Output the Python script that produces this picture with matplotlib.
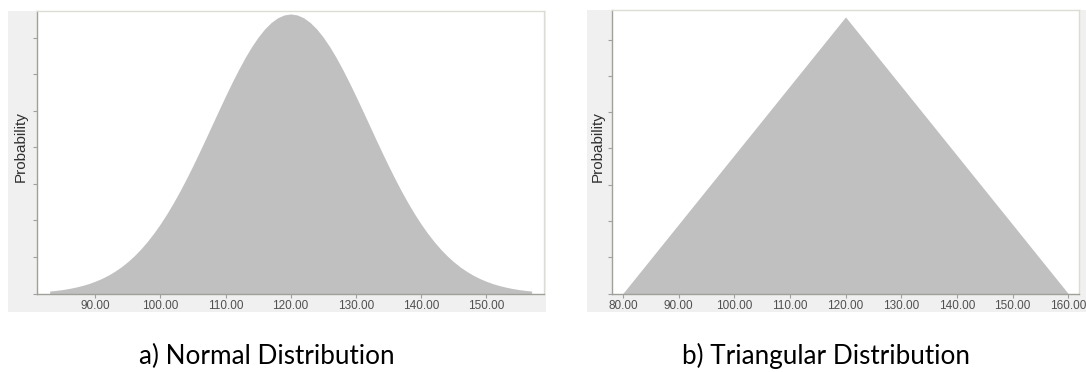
import numpy as np
import matplotlib
matplotlib.use("Agg")
from matplotlib import pyplot as plt
from matplotlib.patches import Rectangle

# normal distribution, read off panel a) (x = 83 .. 157, symmetric about 120)
norm_x = list(range(83, 158))
norm_left = [0.00029, 0.00037, 0.00047, 0.00060, 0.00076, 0.00095, 0.00118, 0.00146, 0.00179,
             0.00218, 0.00264, 0.00317, 0.00379, 0.00449, 0.00529, 0.00619, 0.00718, 0.00828,
             0.00948, 0.01078, 0.01217, 0.01365, 0.01520, 0.01681, 0.01846, 0.02014, 0.02181,
             0.02346, 0.02506, 0.02658, 0.02801, 0.02930, 0.03044, 0.03141, 0.03218, 0.03274,
             0.03308]
norm_peak = 0.0332
norm_y = norm_left + [norm_peak] + norm_left[::-1]
norm_xticks = [90, 100, 110, 120, 130, 140, 150]

# triangular distribution, panel b)
tri_x = [80, 120, 160]
tri_y = [0, 0.025, 0]
tri_xticks = [80, 90, 100, 110, 120, 130, 140, 150, 160]

captions = ["a) Normal Distribution", "b) Triangular Distribution"]

W, H = 1086, 372
fig = plt.figure(figsize=(W / 100, H / 100), dpi=100)
fig.patch.set_facecolor("white")

def px(x0, y0, x1, y1):
    return [x0 / W, 1 - y1 / H, (x1 - x0) / W, (y1 - y0) / H]

# grey panel backgrounds
for r in [px(8, 11, 546, 312), px(587, 10, 1086, 312)]:
    fig.patches.append(Rectangle((r[0], r[1]), r[2], r[3], transform=fig.transFigure,
                                 facecolor="#f0f0f0", edgecolor="none", zorder=-5))

ax1 = fig.add_axes(px(37.3, 11, 544, 293.5))
ax2 = fig.add_axes(px(611.7, 10, 1079.3, 293.5))

ax1.fill_between(norm_x, norm_y, 0, color="#c0c0c0", linewidth=0)
ax1.set_xlim(81.1, 158.9)
step1 = 0.00434
ax1.set_ylim(0, 7.73 * step1)
ax1.set_yticks(np.arange(0, 7.5 * step1, step1))
ax1.set_xticks(norm_xticks)

ax2.fill_between(tri_x, tri_y, 0, color="#c0c0c0", linewidth=0)
ax2.set_xlim(78, 162)
step2 = 0.003277
ax2.set_ylim(0, 7.82 * step2)
ax2.set_yticks(np.arange(0, 7.5 * step2, step2))
ax2.set_xticks(tri_xticks)

for ax, lx in [(ax1, -0.0197), (ax2, -0.0158)]:
    ax.set_facecolor("white")
    ax.set_xticklabels(["%.2f" % t for t in ax.get_xticks()],
                       fontsize=8.5, family="Liberation Sans", color="#505050")
    ax.set_yticklabels([])
    ax.tick_params(axis="both", length=3, width=0.8, color="#a0a0a0", pad=2)
    ax.set_ylabel("Probability", fontsize=11, family="Liberation Sans", color="#303030")
    ax.yaxis.set_label_coords(lx, 0.52)
    for s in ["left", "bottom"]:
        ax.spines[s].set_color("#a0a098")
        ax.spines[s].set_linewidth(1)
    for s in ["top", "right"]:
        ax.spines[s].set_color("#dcdcd4")
        ax.spines[s].set_linewidth(1)

fig.text(267 / W, 1 - 356 / H, captions[0], ha="center", va="center",
         fontsize=18.8, family="Lato", color="black")
fig.text(826 / W, 1 - 356 / H, captions[1], ha="center", va="center",
         fontsize=18.8, family="Lato", color="black")

fig.savefig("out.png", dpi=100)
